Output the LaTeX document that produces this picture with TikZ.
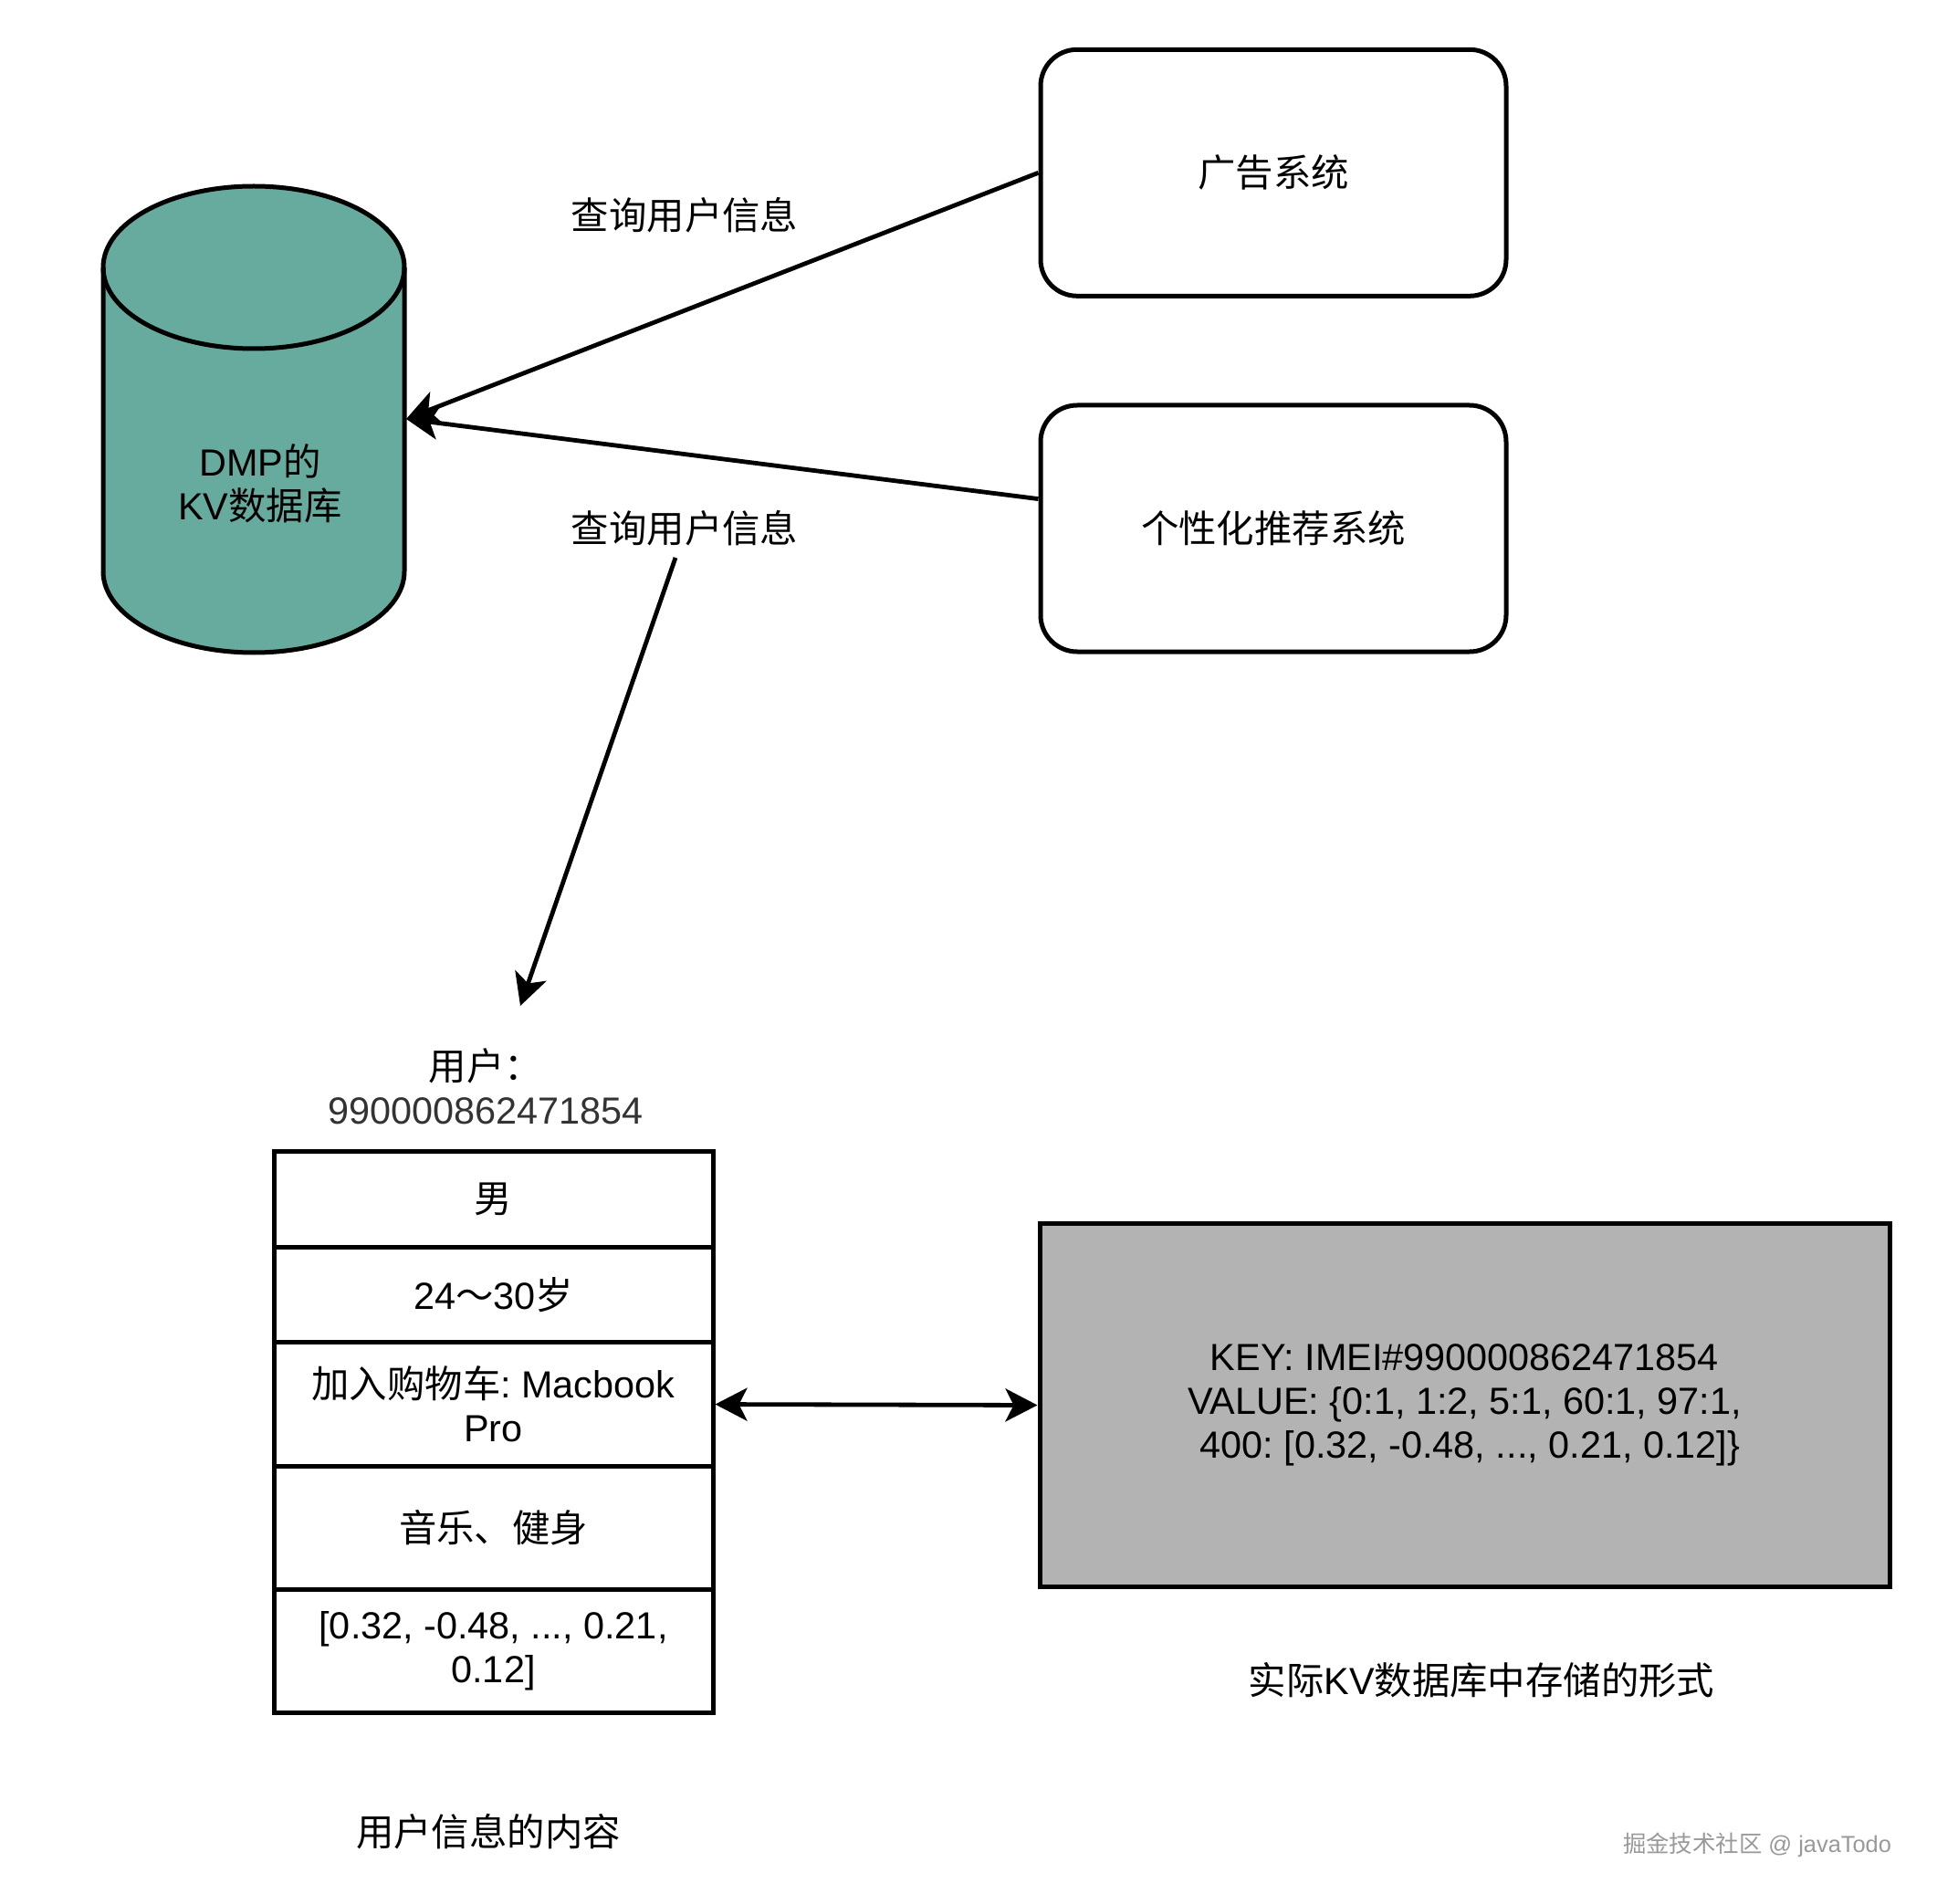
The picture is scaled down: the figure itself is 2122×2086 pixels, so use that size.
\documentclass[tikz,border=0pt]{standalone}
\usepackage{fontspec}
\setmainfont{Liberation Sans}
\newfontfamily\cjk{Noto Sans CJK SC}
\usetikzlibrary{arrows.meta}
\definecolor{dbfill}{HTML}{67AB9F}
\definecolor{kvgray}{HTML}{B3B3B3}
\definecolor{numgray}{HTML}{333333}
\frenchspacing
\begin{document}
\begin{tikzpicture}[x=0.5pt,y=-0.5pt,
  every node/.style={font=\fontsize{20.7pt}{24pt}\selectfont, inner sep=2pt},
  thick line/.style={line width=2.5pt},
  sysbox/.style={draw, line width=2.5pt, rounded corners=20pt, minimum width=255pt, minimum height=135pt, inner sep=0pt},
  cell/.style={draw, line width=2.5pt, minimum width=240.5pt, inner sep=0pt, outer sep=0pt, anchor=north, align=center},
  kvbox/.style={draw, fill=kvgray, line width=2.5pt, minimum width=465.5pt, minimum height=198.6pt, align=center},
  conn/.style={line width=2.4pt, -{Stealth[length=17.5pt, width=18pt, inset=4.5pt]}},
  conn2/.style={line width=2.4pt, {Stealth[length=17.5pt, width=18pt, inset=4.5pt]}-{Stealth[length=17.5pt, width=18pt, inset=4.5pt]}}
]
\useasboundingbox (0,0) rectangle (2122,2086);
\fill[white] (0,0) rectangle (2122,2086);

% database cylinder
\filldraw[fill=dbfill, thick line] (113,293) -- (113,626)
  arc[start angle=180, end angle=360, x radius=82.5pt, y radius=44.5pt]
  -- (443,293)
  arc[start angle=0, end angle=180, x radius=82.5pt, y radius=44.5pt] -- cycle;
\draw[thick line] (113,293) arc[start angle=180, end angle=360, x radius=82.5pt, y radius=44.5pt];
\node[align=center] (db) at (285,530) {DMP{\cjk 的}\\KV{\cjk 数据库}};
\coordinate (dbport) at (445,459);

% systems
\node[sysbox] (ads) at (1395,189.3) {\cjk 广告系统};
\node[sysbox] (rec) at (1395,579) {\cjk 个性化推荐系统};

% labels
\node (q1) at (750,236) {\cjk 查询用户信息};
\node (q2) at (750,579) {\cjk 查询用户信息};

% connectors
\draw[conn] (ads.west) -- (dbport);
\draw[conn] ([yshift=16.2pt]rec.west) -- (dbport);
\coordinate (qstart) at (740,611);
\coordinate (uend) at (570,1102);
\draw[conn] (qstart) -- (uend);

% user
\node[align=center] (uid) at (532,1190.5) {{\cjk 用户：}\\\textcolor{numgray}{990000862471854}};

% table
\node[cell, minimum height=52.6pt] (r1) at (540.5,1261.3) {\cjk 男};
\node[cell, minimum height=52.1pt] (r2) at (r1.south) {24{\cjk ～}30{\cjk 岁}};
\node[cell, minimum height=67.85pt] (r3) at (r2.south) {{\cjk 加入购物车}: Macbook\\Pro};
\node[cell, minimum height=67.3pt] (r4) at (r3.south) {\cjk 音乐、健身};
\node[cell, minimum height=67.85pt] (r5) at (r4.south) {[0.32, -0.48, ..., 0.21,\\0.12]};

% kv box
\node[kvbox] (kv) at (1604.5,1539.5) {KEY: IMEI\#990000862471854\\VALUE: \{0:1, 1:2, 5:1, 60:1, 97:1,\\\ 400: [0.32, -0.48, ..., 0.21, 0.12]\}};

\draw[conn2] ([xshift=1.25pt]r3.east) -- (kv.west);

% captions
\node (cap1) at (535,2006.5) {\cjk 用户信息的内容};
\node (cap2) at (1623,1841) {{\cjk 实际}KV{\cjk 数据库中存储的形式}};
\node[text=gray!80, font=\fontsize{12.7pt}{14pt}\selectfont] (wm) at (1925,2021) {{\cjk 掘金技术社区} @ javaTodo};
\end{tikzpicture}
\end{document}
